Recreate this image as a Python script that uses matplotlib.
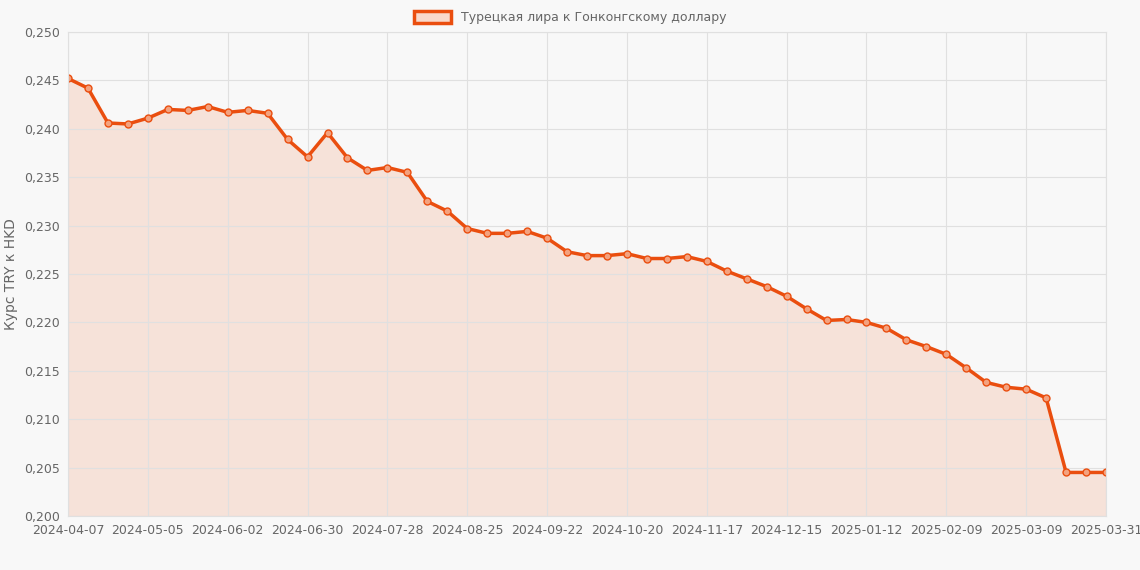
import matplotlib
matplotlib.use("Agg")
import matplotlib.pyplot as plt
import matplotlib.ticker as mticker
from matplotlib.patches import Patch

tick_labels = ["2024-04-07", "2024-05-05", "2024-06-02", "2024-06-30", "2024-07-28",
               "2024-08-25", "2024-09-22", "2024-10-20", "2024-11-17", "2024-12-15",
               "2025-01-12", "2025-02-09", "2025-03-09", "2025-03-31"]
tick_idx = [0, 4, 8, 12, 16, 20, 24, 28, 32, 36, 40, 44, 48, 52]

rates = [0.2452, 0.2442, 0.2406, 0.2405, 0.2411, 0.2420, 0.2419, 0.2423, 0.2417, 0.2419,
         0.2416, 0.2389, 0.2371, 0.2396, 0.2370, 0.2357, 0.2360, 0.2355, 0.2325, 0.2315,
         0.2297, 0.2292, 0.2292, 0.2294, 0.2287, 0.2273, 0.2269, 0.2269, 0.2271, 0.2266,
         0.2266, 0.2268, 0.2263, 0.2253, 0.2245, 0.2237, 0.2227, 0.2214, 0.2202, 0.2203,
         0.2200, 0.2194, 0.2182, 0.2175, 0.2167, 0.2153, 0.2138, 0.2133, 0.2131, 0.2122,
         0.2045, 0.2045, 0.2045]

color = "#ea4e0f"
bg = "#f8f8f8"

fig = plt.figure(figsize=(11.4, 5.7), dpi=100, facecolor=bg)
ax = fig.add_axes([68 / 1140, 1 - 516 / 570, (1106 - 68) / 1140, (516 - 32) / 570])
ax.set_facecolor(bg)

x = list(range(len(rates)))
ax.fill_between(x, rates, 0.2, color=color, alpha=0.13, linewidth=0)
ax.plot(x, rates, color=color, linewidth=2.5, marker="o", markersize=5,
        markerfacecolor="#f3a27f", markeredgecolor=color, markeredgewidth=1)

ax.set_xlim(0, len(rates) - 1)
ax.set_ylim(0.2, 0.25)
ax.set_xticks(tick_idx)
ax.set_xticklabels(tick_labels)
ax.yaxis.set_major_locator(mticker.MultipleLocator(0.005))
ax.yaxis.set_major_formatter(mticker.FuncFormatter(lambda v, p: f"{v:.3f}".replace(".", ",")))
ax.tick_params(colors="#666666", labelsize=9, length=0, pad=6)
ax.grid(color="#e0e0e0", linewidth=0.8)
for s in ax.spines.values():
    s.set_color("#e0e0e0")
ax.set_ylabel("Курс TRY к HKD", color="#666666", fontsize=10)

leg_handle = Patch(facecolor="#f9d9cb", edgecolor=color, linewidth=2.5)
fig.legend([leg_handle], ["Турецкая лира к Гонконгскому доллару"], loc="upper center",
           bbox_to_anchor=(0.5, 1.0), frameon=False, fontsize=9, labelcolor="#666666",
           handlelength=3, handleheight=1)

fig.savefig("out.png", dpi=100, facecolor=bg)
